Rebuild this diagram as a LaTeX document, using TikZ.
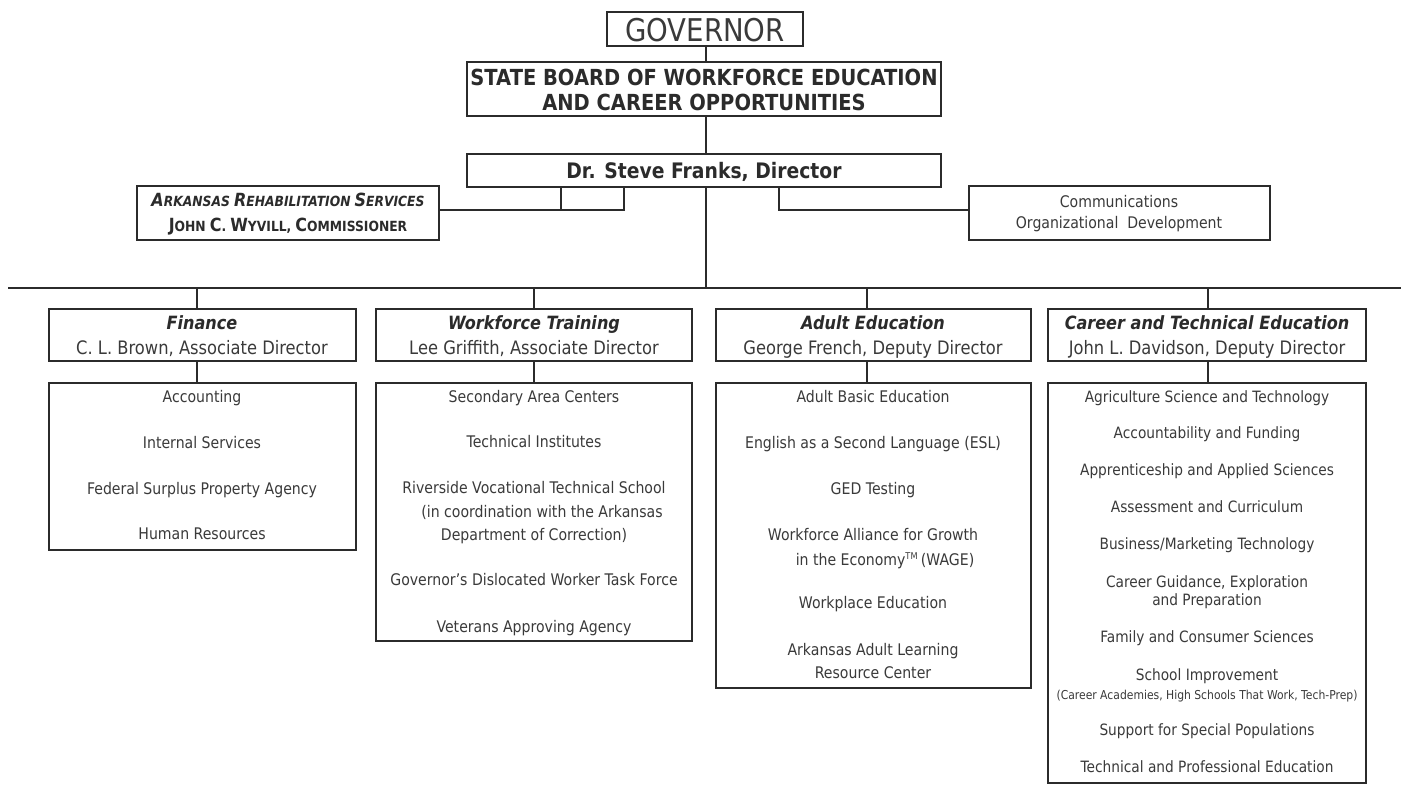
\documentclass[tikz,border=0pt]{standalone}
\usepackage{fontspec}
\setmainfont{DejaVu Sans}[FakeStretch=0.88]
\usetikzlibrary{fit}
\definecolor{ink}{HTML}{2B2B2B}
\definecolor{txt}{HTML}{3A3A3A}
\newcommand\fbody{\fontsize{12}{14}\selectfont}
\newcommand\fcte{\fontsize{11.7}{14}\selectfont}
\newcommand\fparen{\fontsize{9.2}{11}\selectfont}
\newcommand\fhead{\fontsize{13.7}{16}\selectfont\bfseries\itshape}
\newcommand\fsub{\fontsize{13.9}{16}\selectfont}
\newcommand\scbig[1]{{\fontsize{13.6}{15}\selectfont #1}}
\newcommand\scsml[1]{{\fontsize{10.5}{12}\selectfont #1}}
\tikzset{
  x=0.75pt, y=-0.75pt,
  box/.style={draw=ink, line width=2.2pt, inner sep=0pt, fit={#1}},
  conn/.style={draw=ink, line width=2.2pt},
  lbl/.style={text=txt, inner sep=0pt, text height=8.6pt, text depth=0pt, font=\fbody},
  ctelbl/.style={lbl, font=\fcte},
  headlbl/.style={lbl, text=ink, font=\fhead, text height=9.9pt},
  sublbl/.style={lbl, font=\fsub, text height=10pt},
  toplbl/.style={lbl, text=ink, text height=#1}
}
\begin{document}
\begin{tikzpicture}
\useasboundingbox (0,0) rectangle (1401,785);
\fill[white] (0,0) rectangle (1401,785);
% top boxes
\node[box={(607,12)(803,46)}] (gov) {};
\node[box={(467,62)(941,116)}] (board) {};
\node[box={(467,154)(941,187)}] (dir) {};
\node[box={(137,186)(439,240)}] (ars) {};
\node[box={(969,186)(1270,240)}] (comm) {};
% division headers
\node[box={(49,309)(356,361)}] (hfin) {};
\node[box={(376,309)(692,361)}] (hwt) {};
\node[box={(716,309)(1031,361)}] (had) {};
\node[box={(1048,309)(1366,361)}] (hcte) {};
% content boxes
\node[box={(49,383)(356,550)}] (cfin) {};
\node[box={(376,383)(692,641)}] (cwt) {};
\node[box={(716,383)(1031,688)}] (cad) {};
\node[box={(1048,383)(1366,783)}] (ccte) {};
% connector points
\coordinate (j1) at (561,210);
\coordinate (j2) at (624,210);
\coordinate (j3) at (779,210);
\coordinate (trunk) at (706,288);
\coordinate (busL) at (8,288);
\coordinate (busR) at (1401,288);
\coordinate (xfin) at (197,288);
\coordinate (xwt) at (534,288);
\coordinate (xad) at (867,288);
\coordinate (xcte) at (1208,288);
% connectors
\draw[conn] (gov.south -| 706,0) -- (board.north -| 706,0);
\draw[conn] (board.south -| 706,0) -- (dir.north -| 706,0);
\draw[conn] (dir.south -| trunk) -- (trunk);
\draw[conn] (busL) -- (busR);
\draw[conn] (j1 |- dir.south) -- (j1);
\draw[conn] (ars.east |- j1) -- (j2) -- (j2 |- dir.south);
\draw[conn] (j3 |- dir.south) -- (j3) -- (comm.west |- j3);
\draw[conn] (xfin) -- (xfin |- hfin.north);
\draw[conn] (xwt) -- (xwt |- hwt.north);
\draw[conn] (xad) -- (xad |- had.north);
\draw[conn] (xcte) -- (xcte |- hcte.north);
\draw[conn] (xfin |- hfin.south) -- (xfin |- cfin.north);
\draw[conn] (xwt |- hwt.south) -- (xwt |- cwt.north);
\draw[conn] (xad |- had.south) -- (xad |- cad.north);
\draw[conn] (xcte |- hcte.south) -- (xcte |- ccte.north);
% top texts
\node[toplbl=16.9pt, text=txt, font=\fontsize{23.5}{26}\selectfont] (tgov) at (705,30) {GOVERNOR};
\node[toplbl=12pt, font=\fontsize{16.6}{18}\selectfont\bfseries] (tb1) at (704,77) {STATE BOARD OF WORKFORCE EDUCATION};
\node[toplbl=12pt, font=\fontsize{16.6}{18}\selectfont\bfseries] (tb2) at (704,102) {AND CAREER OPPORTUNITIES};
\node[toplbl=11.5pt, font=\fontsize{16}{18}\selectfont\bfseries] (tdir) at (704,171) {Dr. Steve Franks, Director};
\node[toplbl=9.8pt, font=\bfseries\itshape] (tars1) at (288,200) {\scbig{A}\scsml{RKANSAS} \scbig{R}\scsml{EHABILITATION} \scbig{S}\scsml{ERVICES}};
\node[toplbl=9.8pt, font=\bfseries] (tars2) at (288,225) {\scbig{J}\scsml{OHN} \scbig{C}\scsml{.} \scbig{W}\scsml{YVILL,} \scbig{C}\scsml{OMMISSIONER}};
\node[lbl] (tcom1) at (1119,202) {Communications};
\node[lbl] (tcom2) at (1119,223) {Organizational\ \ Development};
% headers
\node[headlbl] at (202,323) {Finance};
\node[sublbl] at (202,348) {C. L. Brown, Associate Director};
\node[headlbl] at (534,323) {Workforce Training};
\node[sublbl] at (534,348) {Lee Griffith, Associate Director};
\node[headlbl] at (873,323) {Adult Education};
\node[sublbl] at (873,348) {George French, Deputy Director};
\node[headlbl] at (1207,323) {Career and Technical Education};
\node[sublbl] at (1207,348) {John L. Davidson, Deputy Director};
% finance
\node[lbl] at (202,397) {Accounting};
\node[lbl] at (202,443) {Internal Services};
\node[lbl] at (202,489) {Federal Surplus Property Agency};
\node[lbl] at (202,534) {Human Resources};
% workforce training
\node[lbl] at (534,397) {Secondary Area Centers};
\node[lbl] at (534,442) {Technical Institutes};
\node[lbl] at (534,488) {Riverside Vocational Technical School};
\node[lbl] at (542,512) {(in coordination with the Arkansas};
\node[lbl] at (534,535) {Department of Correction)};
\node[lbl] at (534,580) {Governor’s Dislocated Worker Task Force};
\node[lbl] at (534,627) {Veterans Approving Agency};
% adult education
\node[lbl] at (873,397) {Adult Basic Education};
\node[lbl] at (873,443) {English as a Second Language (ESL)};
\node[lbl] at (873,489) {GED Testing};
\node[lbl] at (873,535) {Workforce Alliance for Growth};
\node[lbl] at (885,560) {in the Economy\textsuperscript{\fontsize{7}{8}\selectfont TM}\,(WAGE)};
\node[lbl] at (873,603) {Workplace Education};
\node[lbl] at (873,650) {Arkansas Adult Learning};
\node[lbl] at (873,673) {Resource Center};
% career and technical education
\node[ctelbl] at (1207,397) {Agriculture Science and Technology};
\node[ctelbl] at (1207,433) {Accountability and Funding};
\node[ctelbl] at (1207,470) {Apprenticeship and Applied Sciences};
\node[ctelbl] at (1207,507) {Assessment and Curriculum};
\node[ctelbl] at (1207,544) {Business/Marketing Technology};
\node[ctelbl] at (1207,582) {Career Guidance, Exploration};
\node[ctelbl] at (1207,600) {and Preparation};
\node[ctelbl] at (1207,637) {Family and Consumer Sciences};
\node[ctelbl] at (1207,675) {School Improvement};
\node[lbl, font=\fparen, text height=6.6pt] at (1207,695) {(Career Academies, High Schools That Work, Tech-Prep)};
\node[ctelbl] at (1207,730) {Support for Special Populations};
\node[ctelbl] at (1207,767) {Technical and Professional Education};
\end{tikzpicture}
\end{document}
